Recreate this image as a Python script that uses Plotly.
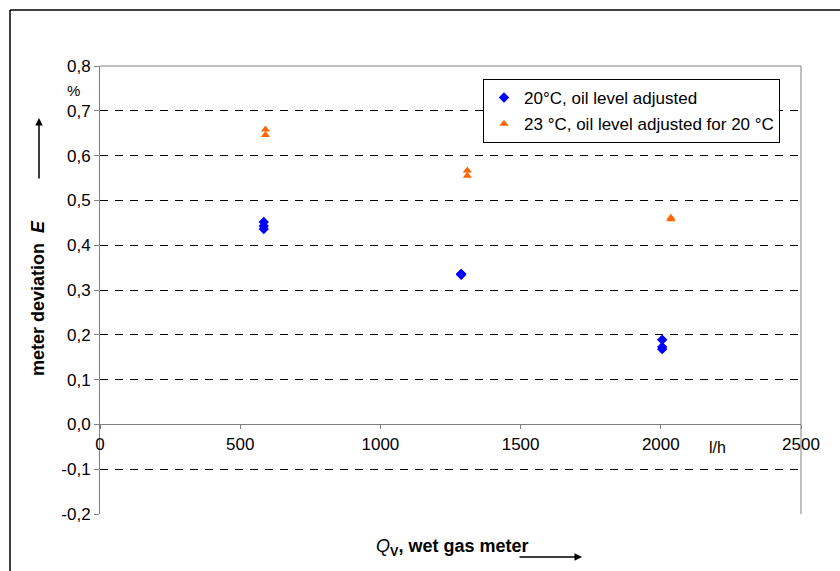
import plotly.graph_objects as go

# ---- data ----
flow_20 = [584, 584, 584, 1288, 1288, 1288, 2005, 2005, 2005]
dev_20 = [0.452, 0.443, 0.436, 0.336, 0.335, 0.334, 0.189, 0.173, 0.168]
flow_23 = [590, 590, 1310, 1310, 2036, 2036]
dev_23 = [0.658, 0.646, 0.567, 0.555, 0.461, 0.458]

name_20 = "20°C, oil level adjusted"
name_23 = "23 °C, oil level adjusted for 20 °C"

y_tickvals = [-0.2, -0.1, 0.0, 0.1, 0.2, 0.3, 0.4, 0.5, 0.6, 0.7, 0.8]
y_ticktext = ["-0,2", "-0,1", "0,0", "0,1", "0,2", "0,3", "0,4", "0,5", "0,6", "0,7", "0,8"]
x_tickvals = [0, 500, 1000, 1500, 2000, 2500]
x_ticktext = ["0", "500", "1000", "1500", "2000", "2500"]

FONT = "Liberation Sans, Arial, sans-serif"
W, H = 840, 571
L, R, T, B = 100, 39, 66, 57
pw = W - L - R
ph = H - T - B


def px(xp):
    return (xp - L) / pw


def py(yp):
    return (H - B - yp) / ph


fig = go.Figure()
fig.add_trace(go.Scatter(
    x=flow_20, y=dev_20, mode="markers", name=name_20, legendgroup="a",
    marker=dict(symbol="diamond", size=8, color="#0000ff"),
))
fig.add_trace(go.Scatter(
    x=flow_23, y=dev_23, mode="markers", name=name_23, legendgroup="b",
    marker=dict(symbol="triangle-up", size=8, color="#ff6600"),
))

fig.update_layout(
    width=W, height=H,
    margin=dict(l=L, r=R, t=T, b=B, pad=0),
    paper_bgcolor="white", plot_bgcolor="white",
    font=dict(family=FONT, size=17, color="black"),
    showlegend=True,
    legend=dict(
        x=px(483), y=py(79), xanchor="left", yanchor="top",
        bgcolor="white", bordercolor="black", borderwidth=1,
        font=dict(family=FONT, size=17, color="black"),
        tracegroupgap=1, traceorder="grouped",
        entrywidth=290, entrywidthmode="pixels",
    ),
    xaxis=dict(
        range=[0, 2500], anchor="free", position=0.2,
        tickvals=x_tickvals, ticktext=x_ticktext,
        showline=True, linecolor="#808080", linewidth=1,
        ticks="outside", ticklen=4, tickcolor="#808080",
        showgrid=False, zeroline=False,
        tickfont=dict(family=FONT, size=17),
    ),
    yaxis=dict(
        range=[-0.2, 0.8],
        tickvals=y_tickvals, ticktext=y_ticktext,
        showline=True, linecolor="#808080", linewidth=1,
        ticks="outside", ticklen=5, tickcolor="#808080",
        showgrid=True, gridcolor="#000000", gridwidth=1, griddash="8px,7px",
        zeroline=False,
        tickfont=dict(family=FONT, size=17),
    ),
)

# plot-area frame (top + right) and outer chart border (left + top)
fig.add_shape(type="line", xref="paper", yref="paper", x0=0, x1=1, y0=1, y1=1,
              line=dict(color="#808080", width=1), layer="above")
fig.add_shape(type="line", xref="paper", yref="paper", x0=1, x1=1, y0=0, y1=1,
              line=dict(color="#808080", width=1), layer="above")
fig.add_shape(type="line", xref="paper", yref="paper", x0=px(10), x1=px(10), y0=py(10), y1=py(H + 5),
              line=dict(color="black", width=1.5), layer="above")
fig.add_shape(type="line", xref="paper", yref="paper", x0=px(10), x1=px(W + 5), y0=py(10), y1=py(10),
              line=dict(color="black", width=1.5), layer="above")

# axis titles & units
fig.add_annotation(x=px(38), y=py(298), xref="paper", yref="paper",
                   xanchor="center", yanchor="middle",
                   text="<b>meter deviation\u00a0\u00a0<i>E</i></b>", textangle=-90,
                   showarrow=False, font=dict(family=FONT, size=18))
fig.add_annotation(x=px(39), y=py(118), xref="paper", yref="paper",
                   ax=0, ay=62, text="", showarrow=True,
                   arrowhead=2, arrowsize=1, arrowwidth=1.5, arrowcolor="black")
fig.add_annotation(x=px(73), y=py(90), xref="paper", yref="paper",
                   xanchor="center", yanchor="middle",
                   text="%", showarrow=False, font=dict(family=FONT, size=15))
fig.add_annotation(x=px(452), y=py(547), xref="paper", yref="paper",
                   xanchor="center", yanchor="middle",
                   text="<i>Q</i><sub><b>V</b></sub><b>, wet gas meter</b>",
                   showarrow=False, font=dict(family=FONT, size=18))
fig.add_annotation(x=px(582), y=py(557), xref="paper", yref="paper",
                   ax=-64, ay=0, text="", showarrow=True,
                   arrowhead=2, arrowsize=1, arrowwidth=1.5, arrowcolor="black")
fig.add_annotation(x=px(717), y=py(447), xref="paper", yref="paper",
                   xanchor="center", yanchor="middle",
                   text="l/h", showarrow=False, font=dict(family=FONT, size=16))

fig.write_html("out.html")
